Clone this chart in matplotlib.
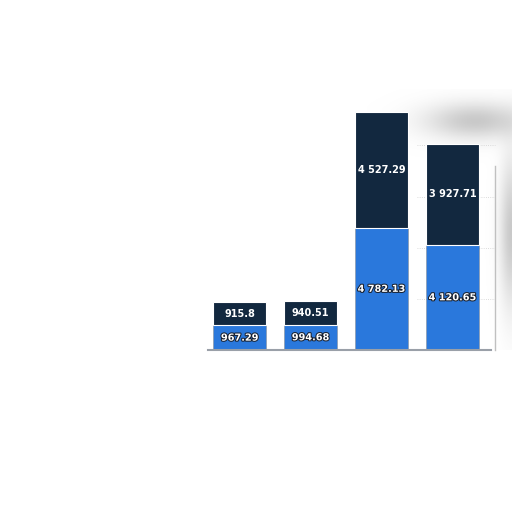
import numpy as np
import matplotlib.pyplot as plt
import matplotlib.patheffects as pe

# Dane
categories = ['A', 'B', 'C', 'D']
bottom_vals = [967.29, 994.68, 4782.13, 4120.65]
top_vals = [915.8, 940.51, 4527.29, 3927.71]
bottom_labels = ['967.29', '994.68', '4 782.13', '4 120.65']
top_labels = ['915.8', '940.51', '4 527.29', '3 927.71']

blue = '#2a78dc'
navy = '#12283f'

fig = plt.figure(figsize=(5.12, 5.12), dpi=100)
ax = fig.add_axes([0, 0, 1, 1])

x = np.arange(len(categories))

# rozmyte szare tlo w prawym gornym rogu
gx, gy = np.meshgrid(np.linspace(0, 1, 200), np.linspace(0, 1, 200))
blob = np.exp(-((gx - 0.75) / 0.35) ** 2 - ((gy - 0.88) / 0.07) ** 2)
blob += np.exp(-((gx - 1.0) / 0.08) ** 2 - ((gy - 0.45) / 0.28) ** 2)
blob = np.clip(blob, 0, 1)
rgba = np.ones((200, 200, 4))
rgba[..., :3] = 0.72
rgba[..., 3] = blob * 0.75
ax.imshow(rgba, extent=[1.8, 3.84, 0, 10200], origin='lower', aspect='auto', zorder=0)

for g in [2000, 4000, 6000, 8000]:
    ax.plot([2.5, 3.6], [g, g], color='#d0d0d0', lw=0.6, ls=':', zorder=1)
ax.plot([3.6, 3.6], [0, 7200], color='#c0c0c0', lw=1.0, zorder=1)

ax.bar(x, bottom_vals, width=0.75, color=blue, edgecolor='#8a9099', linewidth=0.4, zorder=2)
ax.bar(x, top_vals, width=0.75, bottom=bottom_vals, color=navy,
       edgecolor='white', linewidth=0.8, zorder=2)

ax.plot([-0.45, 3.55], [0, 0], color='#9aa0a8', lw=1.5, zorder=3)

shadow = [pe.withStroke(linewidth=1.5, foreground='#1a2230')]
for i in range(len(categories)):
    ax.text(x[i], bottom_vals[i] / 2, bottom_labels[i], ha='center', va='center',
            color='white', fontsize=7, fontweight='bold', zorder=4, path_effects=shadow)
    ax.text(x[i], bottom_vals[i] + top_vals[i] / 2, top_labels[i], ha='center', va='center',
            color='white', fontsize=7, fontweight='bold', zorder=4)

ax.set_xlim(-3.38, 3.84)
ax.set_ylim(-6334, 13685)
ax.axis('off')

fig.savefig('out.png', dpi=100)
